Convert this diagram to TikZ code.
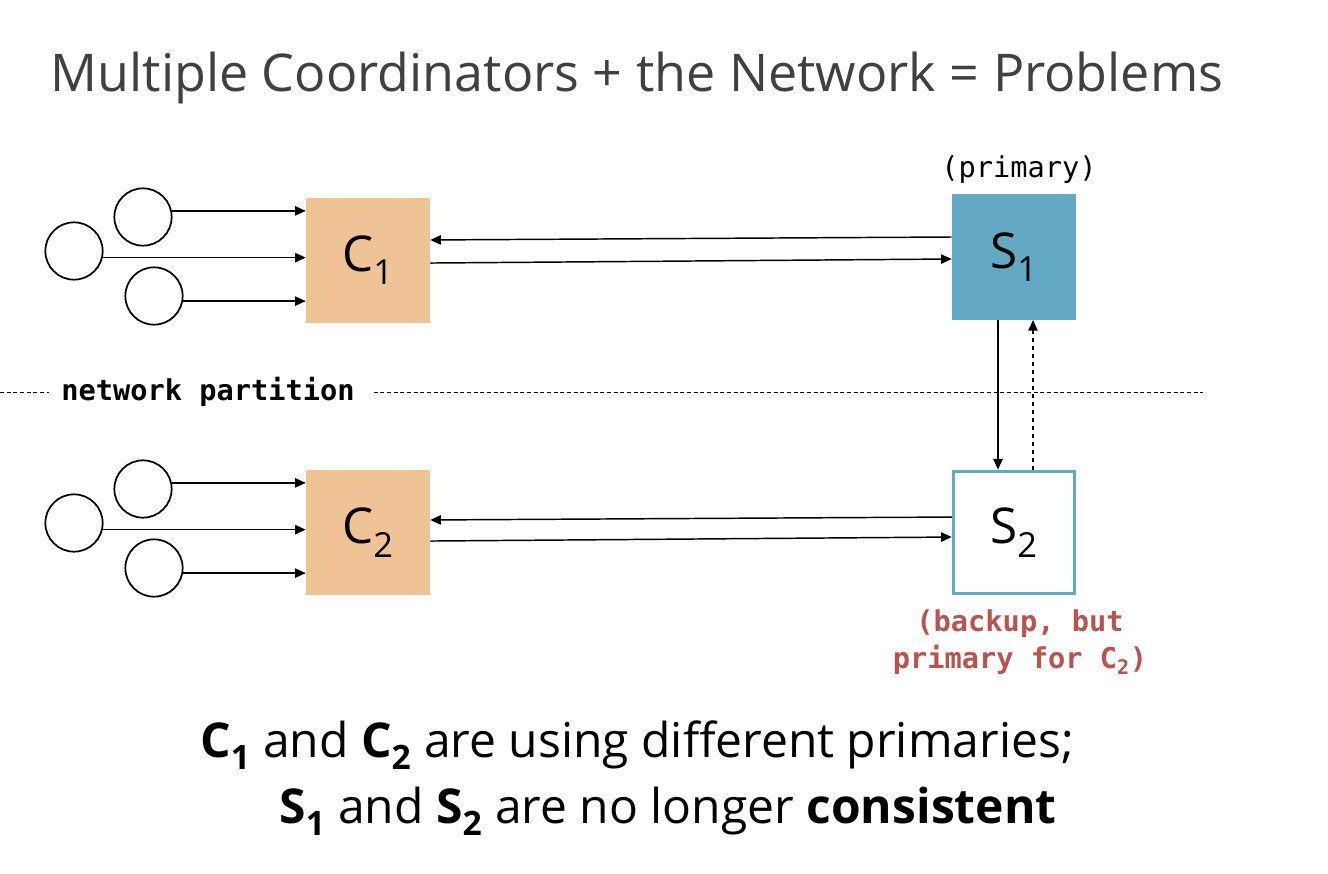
\documentclass[tikz,border=0pt]{standalone}
\usepackage{fontspec}
\setmainfont{Open Sans}
\setmonofont{DejaVu Sans Mono}
\usetikzlibrary{arrows.meta}

\definecolor{peach}{RGB}{240,195,150}
\definecolor{srvblue}{RGB}{100,169,195}
\definecolor{titlegray}{RGB}{64,64,64}
\definecolor{notered}{RGB}{184,84,80}

\begin{document}
\begin{tikzpicture}
				[x=0.75pt,y=-0.75pt,
				client/.style={circle,draw,line width=1.3pt,minimum size=43pt,inner sep=0pt},
				box/.style={minimum width=93pt,minimum height=94pt,inner sep=0pt,font=\fontsize{37}{40}\selectfont},
				coord/.style={box,fill=peach},
				msg/.style={-{Triangle[length=8pt,width=7pt]},line width=1.1pt},
				monotext/.style={font=\ttfamily\bfseries\fontsize{21.5}{28}\selectfont},
				bigtext/.style={font=\fontsize{36}{44}\selectfont,anchor=base}]
				
				\useasboundingbox (0,0) rectangle (1328,874);
				
				\node[anchor=base west,text=titlegray,font=\fontsize{39}{40}\selectfont] (title) at (46,92)
					{Multiple Coordinators + the Network = Problems};
				
				% coordinators and servers
				\node[coord] (c1) at (368,260.5) {C\textsubscript{1}};
				\node[coord] (c2) at (368,532.5) {C\textsubscript{2}};
				\node[box,fill=srvblue] (s1) at (1014,257) {S\textsubscript{1}};
				\node[box,draw=srvblue,line width=2.3pt,minimum width=91pt,minimum height=92pt] (s2) at (1014,532.5) {S\textsubscript{2}};
				
				% clients
				\node[client] (u1a) at (143,217) {};
				\node[client] (u1b) at (74,251) {};
				\node[client] (u1c) at (154,296) {};
				\node[client] (u2a) at (143,489) {};
				\node[client] (u2b) at (74,523) {};
				\node[client] (u2c) at (154,568) {};
				
				\draw[msg] (u1a.12) -- (c1.west |- u1a.12);
				\draw[msg] (u1b.-13) -- (c1.west |- u1b.-13);
				\draw[msg] (u1c.-10) -- (c1.west |- u1c.-10);
				\draw[msg] (u2a.12) -- (c2.west |- u2a.12);
				\draw[msg] (u2b.-13) -- (c2.west |- u2b.-13);
				\draw[msg] (u2c.-10) -- (c2.west |- u2c.-10);
				
				\draw[msg] ([yshift=15pt]s1.west) -- ([yshift=15.4pt]c1.east);
				\draw[msg] ([yshift=-1.9pt]c1.east) -- ([yshift=-1.5pt]s1.west);
				\draw[msg] ([yshift=11.6pt]s2.west) -- ([yshift=9.4pt]c2.east);
				\draw[msg] ([yshift=-6.4pt]c2.east) -- ([yshift=-3.4pt]s2.west);
				
				\draw[msg] ([xshift=-12pt]s1.south) -- ([xshift=-12pt]s2.north);
				\draw[msg,dashed] ([xshift=14.25pt]s2.north) -- ([xshift=14.25pt]s1.south);
				
				% partition
				\node[monotext,inner xsep=9pt] (part) at (208,392) {network partition};
				\coordinate (pl) at (0,392);
				\coordinate (pr) at (1203,392);
				\draw[dash pattern=on 3pt off 2pt,line width=0.7pt] (pl) -- (part.west);
				\draw[dash pattern=on 3pt off 2pt,line width=0.7pt] ([xshift=5pt]part.east) -- (pr);
				
				\node[font=\ttfamily\fontsize{21.5}{28}\selectfont,anchor=base] (prim) at (1019,177) {(primary)};
				\node[monotext,text=notered,align=center,anchor=north] (backup) at (1020,605)
					{(backup, but\\primary for C\textsubscript{2})};
				
				\node[bigtext] (line1) at (637,757)
					{\textbf{C\textsubscript{1}} and \textbf{C\textsubscript{2}} are using different primaries;};
				\node[bigtext] (line2) at (668,823)
					{\textbf{S\textsubscript{1}} and \textbf{S\textsubscript{2}} are no longer \textbf{consistent}};
			\end{tikzpicture}
\end{document}
